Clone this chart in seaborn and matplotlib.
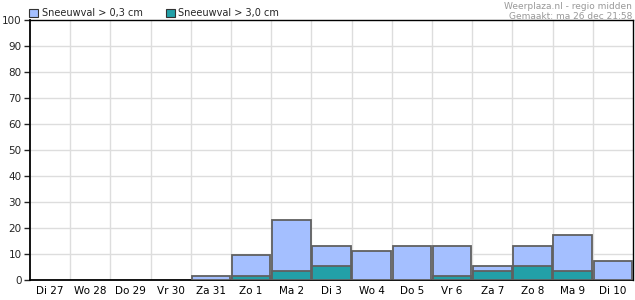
import matplotlib
matplotlib.use("Agg")
import matplotlib.pyplot as plt
import seaborn as sns
import pandas as pd
from matplotlib.patches import Patch

days = ["Di 27", "Wo 28", "Do 29", "Vr 30", "Za 31", "Zo 1", "Ma 2", "Di 3",
        "Wo 4", "Do 5", "Vr 6", "Za 7", "Zo 8", "Ma 9", "Di 10"]
snow_03 = [0, 0, 0, 0, 1.7, 9.5, 23, 13.2, 11.3, 13.2, 13.2, 5.5, 13.2, 17.3, 7.4]
snow_30 = [0, 0, 0, 0, 0, 1.5, 3.6, 5.5, 0, 0, 1.7, 3.6, 5.5, 3.6, 0]
yticks = list(range(0, 101, 10))

df = pd.DataFrame({"dag": days, "s03": snow_03, "s30": snow_30})

sns.set_style("white")
plt.rcParams["font.family"] = ["DejaVu Sans"]

light = "#a4bfff"
teal = "#22a0a8"
edge = "#606060"

fig = plt.figure(figsize=(6.35, 3.0), dpi=100)
ax = fig.add_axes([30 / 635, 20 / 300, 603 / 635, 260 / 300])

sns.barplot(data=df, x="dag", y="s03", color=light, saturation=1, width=0.96,
            edgecolor=edge, linewidth=1.3, ax=ax, zorder=3)
sns.barplot(data=df, x="dag", y="s30", color=teal, saturation=1, width=0.96,
            edgecolor=edge, linewidth=1.3, ax=ax, zorder=4)
for p in ax.patches:
    if p.get_height() <= 0:
        p.set_visible(False)

n = len(days)
ax.set_xlim(-0.5, n - 0.5)
ax.set_ylim(0, 100)
ax.set_yticks(yticks)
ax.set_xticks(range(n))
ax.set_xticklabels(days)
ax.set_xticks([i - 0.5 for i in range(1, n)], minor=True)
ax.set_xlabel("")
ax.set_ylabel("")

ax.grid(False)
for i in range(1, n):
    ax.axvline(i - 0.5, color="#dddddd", lw=1, zorder=1)
for y in yticks[1:-1]:
    ax.axhline(y, color="#dddddd", lw=1, zorder=1)

ax.tick_params(axis="x", which="major", length=0, labelsize=7.5, pad=4, colors="black")
ax.tick_params(axis="x", which="minor", length=4, width=1, color="black", direction="out")
ax.tick_params(axis="y", which="major", length=4, width=1, labelsize=7.5, pad=2,
               direction="out", left=True)
for s in ax.spines.values():
    s.set_visible(True)
    s.set_color("black")
    s.set_linewidth(1)
ax.spines["left"].set_linewidth(1.3)
ax.spines["bottom"].set_linewidth(1.3)

handles = [Patch(facecolor=light, edgecolor="#333333", lw=0.8, label="Sneeuwval > 0,3 cm"),
           Patch(facecolor=teal, edgecolor="#333333", lw=0.8, label="Sneeuwval > 3,0 cm")]
fig.legend(handles=handles, loc="center left", bbox_to_anchor=(29 / 635, 1 - 13 / 300), ncol=2,
           frameon=False, fontsize=7, handlelength=0.9, handleheight=0.9,
           handletextpad=0.4, columnspacing=2.4, borderaxespad=0, borderpad=0)

fig.text(632 / 635, 298 / 300, "Weerplaza.nl - regio midden", ha="right", va="top",
         fontsize=6.5, color="#999999")
fig.text(632 / 635, 288 / 300, "Gemaakt: ma 26 dec 21:58", ha="right", va="top",
         fontsize=6.5, color="#999999")

fig.savefig("out.png", dpi=100)
